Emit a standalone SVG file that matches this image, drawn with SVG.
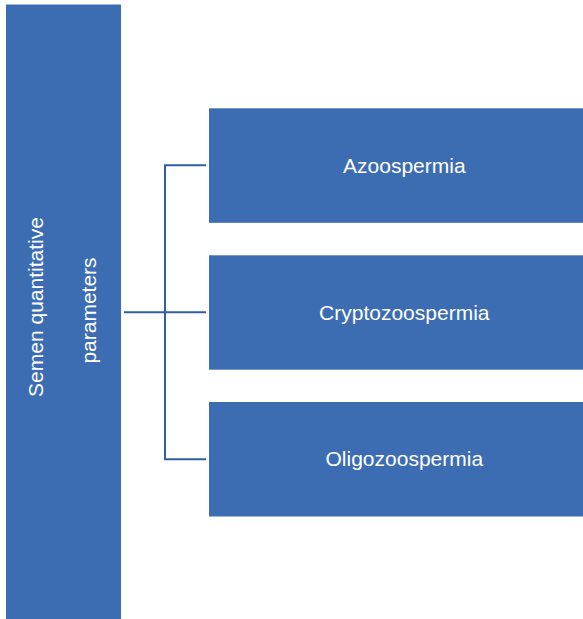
<svg xmlns="http://www.w3.org/2000/svg" width="583" height="619" viewBox="0 0 583 619">
  <style>
    .box { fill: #3c6db3; }
    .label { fill: #ffffff; font-family: "Liberation Sans", Arial, sans-serif; font-size: 21px; text-anchor: middle; }
    .link { fill: none; stroke: #2e5fa3; stroke-width: 2; }
  </style>
  <rect x="0" y="0" width="583" height="619" fill="#ffffff"/>

  <g id="semen-quantitative-parameters">
    <rect class="box" x="6" y="4.5" width="115" height="616"/>
    <text class="label" transform="translate(42.7 307) rotate(-90)">Semen quantitative</text>
    <text class="label" transform="translate(96 310.5) rotate(-90)">parameters</text>
  </g>

  <g id="connectors">
    <path class="link" d="M124 312.3 H206"/>
    <path class="link" d="M206 165.3 H165 V459.3 H206"/>
  </g>

  <g id="azoospermia">
    <rect class="box" x="209" y="108.3" width="374" height="114.5"/>
    <text class="label" x="404.3" y="172.6">Azoospermia</text>
  </g>

  <g id="cryptozoospermia">
    <rect class="box" x="209" y="255.3" width="374" height="114.4"/>
    <text class="label" x="404.3" y="319.6">Cryptozoospermia</text>
  </g>

  <g id="oligozoospermia">
    <rect class="box" x="209" y="402" width="374" height="114.5"/>
    <text class="label" x="404.3" y="466">Oligozoospermia</text>
  </g>
</svg>
